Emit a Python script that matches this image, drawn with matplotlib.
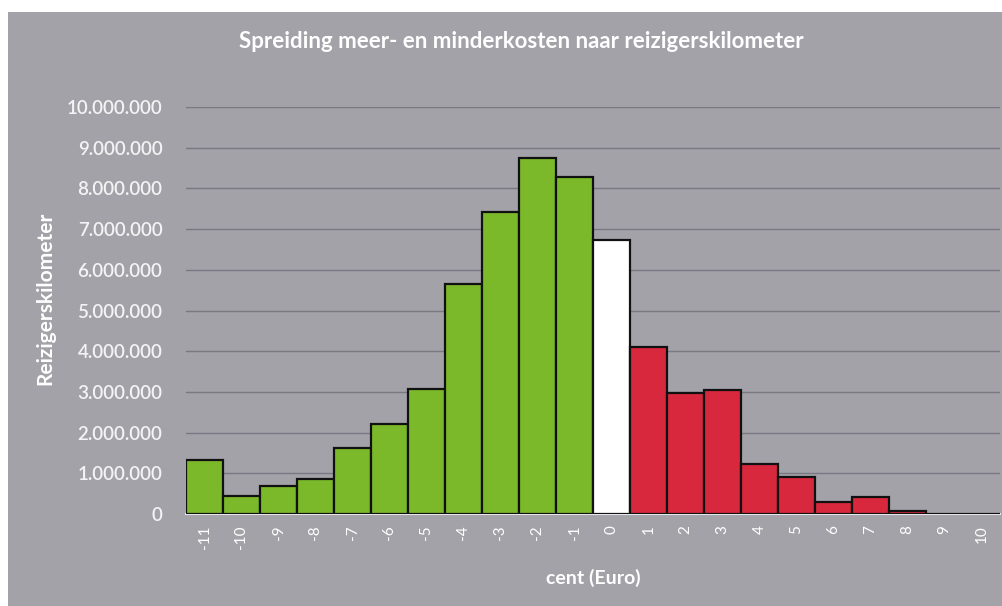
import matplotlib
matplotlib.use("Agg")
import matplotlib.pyplot as plt
from matplotlib.patches import Rectangle

categories = ["-11", "-10", "-9", "-8", "-7", "-6", "-5", "-4", "-3", "-2", "-1",
              "0", "1", "2", "3", "4", "5", "6", "7", "8", "9", "10"]
values = [1330000, 440000, 690000, 855000, 1615000, 2200000, 3070000, 5650000,
          7430000, 8740000, 8285000, 6720000, 4100000, 2980000, 3050000, 1230000,
          920000, 290000, 420000, 80000, 0, 0]
yticks = [0, 1000000, 2000000, 3000000, 4000000, 5000000, 6000000, 7000000,
          8000000, 9000000, 10000000]
yticklabels = ["0", "1.000.000", "2.000.000", "3.000.000", "4.000.000", "5.000.000",
               "6.000.000", "7.000.000", "8.000.000", "9.000.000", "10.000.000"]
title = "Spreiding meer- en minderkosten naar reizigerskilometer"
xlabel = "cent (Euro)"
ylabel = "Reizigerskilometer"

GREEN = "#7bb82a"
RED = "#d8283d"
BG = "#a3a2a9"

def color_for(c):
    v = int(c)
    if v < 0:
        return GREEN
    if v == 0:
        return "#ffffff"
    return RED

W, H = 1003, 606
fig = plt.figure(figsize=(W / 100, H / 100), dpi=100)
fig.patch.set_facecolor("white")
fig.add_artist(Rectangle((8 / W, 0), 1 - 8 / W, 1 - 12 / H, transform=fig.transFigure,
                         facecolor=BG, edgecolor="none", zorder=0))

ax = fig.add_axes([186 / W, 1 - 514 / H, (1000 - 186) / W, (514 - 107) / H])
ax.set_facecolor("none")
x = list(range(len(categories)))
ax.bar(x, values, width=1.0, color=[color_for(c) for c in categories],
       edgecolor="#111111", linewidth=1.6, zorder=3)
ax.set_xlim(-0.5, len(categories) - 0.5)
ax.set_ylim(0, 10000000)
ax.set_yticks(yticks)
ax.set_yticklabels(yticklabels, fontsize=13.5, color="#f4f4f6", family="Lato",
                   fontweight="semibold")
ax.set_xticks(x)
ax.set_xticklabels(categories, rotation=90, fontsize=11, color="white", family="Lato")
ax.tick_params(axis="y", length=0, pad=17)
ax.tick_params(axis="x", length=0, pad=8)
for s in ["top", "right", "left"]:
    ax.spines[s].set_visible(False)
ax.spines["bottom"].set_color("#e6e6ea")
ax.spines["bottom"].set_linewidth(1.5)
ax.spines["bottom"].set_zorder(2)
ax.yaxis.grid(True, color="#7a7982", linewidth=1.0, zorder=1)
ax.set_axisbelow(True)

fig.text(521 / W, 1 - 42 / H, title, ha="center", va="center", color="white",
         fontsize=16, fontweight="bold", family="Lato")
fig.text(593 / W, 1 - 578 / H, xlabel, ha="center", va="center", color="white",
         fontsize=14, fontweight="bold", family="Lato")
fig.text(45 / W, 1 - 298 / H, ylabel, ha="center", va="center", rotation=90,
         color="white", fontsize=15, fontweight="bold", family="Lato")

fig.savefig("out.png", dpi=100, facecolor=fig.get_facecolor())
